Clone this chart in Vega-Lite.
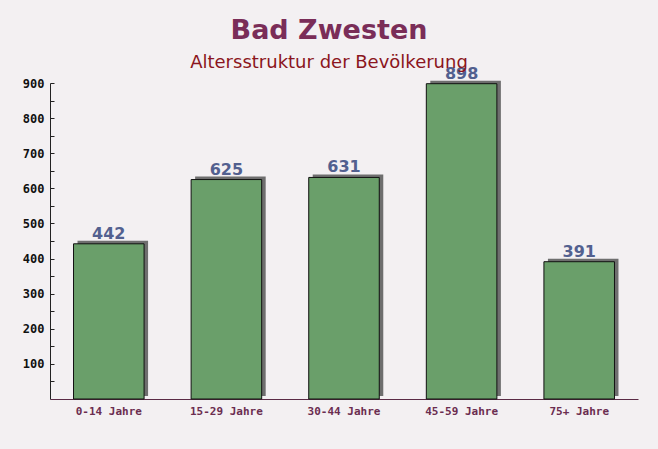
{
  "$schema": "https://vega.github.io/schema/vega-lite/v6.json",
  "width": 588,
  "height": 316,
  "autosize": {"type": "none"},
  "padding": {"left": 50, "top": 83, "right": 20, "bottom": 50},
  "background": "#f3f0f2",
  "title": {
    "text": "Bad Zwesten",
    "subtitle": "Altersstruktur der Bevölkerung",
    "anchor": "middle",
    "dx": -15,
    "offset": -7,
    "font": "DejaVu Sans",
    "fontSize": 27,
    "fontWeight": "bold",
    "color": "#7a2d58",
    "subtitleFont": "DejaVu Sans",
    "subtitleFontSize": 18,
    "subtitleColor": "#8b1520",
    "subtitlePadding": 9
  },
  "data": {
    "values": [
      {"group": "0-14 Jahre", "value": 442},
      {"group": "15-29 Jahre", "value": 625},
      {"group": "30-44 Jahre", "value": 631},
      {"group": "45-59 Jahre", "value": 898},
      {"group": "75+ Jahre", "value": 391}
    ]
  },
  "config": {"view": {"stroke": null}},
  "encoding": {
    "x": {
      "field": "group",
      "type": "nominal",
      "sort": null,
      "scale": {"paddingInner": 0.4, "paddingOuter": 0.2},
      "axis": {
        "title": null,
        "labelAngle": 0,
        "labelFont": "DejaVu Sans Mono",
        "labelFontWeight": "bold",
        "labelFontSize": 11,
        "labelColor": "#6b2d50",
        "labelPadding": 6,
        "domainColor": "#5a2a45",
        "tickColor": "#5a2a45",
        "tickSize": 0
      }
    },
    "y": {
      "field": "value",
      "type": "quantitative",
      "scale": {"domain": [0, 900]},
      "axis": {
        "title": null,
        "values": [50, 100, 150, 200, 250, 300, 350, 400, 450, 500, 550, 600, 650, 700, 750, 800, 850, 900],
        "labelExpr": "datum.value % 100 === 0 ? datum.label : ''",
        "grid": false,
        "labelFont": "DejaVu Sans Mono",
        "labelFontWeight": "bold",
        "labelFontSize": 12,
        "labelColor": "#111111",
        "labelPadding": 10,
        "tickSize": -4,
        "tickColor": "#222222",
        "domainColor": "#222222"
      }
    }
  },
  "layer": [
    {
      "mark": {"type": "bar", "color": "#5f5f5f", "xOffset": 4, "yOffset": -3, "opacity": 0.9}
    },
    {
      "mark": {"type": "bar", "color": "#6a9f6a", "stroke": "#111111", "strokeWidth": 1}
    },
    {
      "mark": {"type": "text", "dy": -10, "font": "DejaVu Sans", "fontWeight": "bold", "fontSize": 16, "color": "#52608f"},
      "encoding": {"text": {"field": "value", "type": "quantitative"}}
    }
  ]
}
